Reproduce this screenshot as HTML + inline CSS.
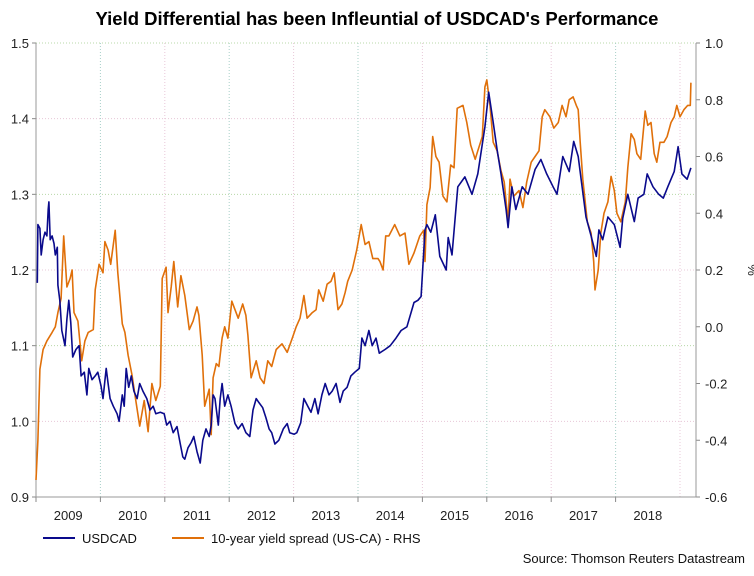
<!DOCTYPE html>
<html><head><meta charset="utf-8"><style>
body{margin:0;background:#fff;}
svg{display:block;font-family:"Liberation Sans",Arial,sans-serif;}
</style></head><body>
<svg id="chart" width="754" height="576" viewBox="0 0 754 576" xmlns="http://www.w3.org/2000/svg">
<text x="377" y="25" text-anchor="middle" font-size="18.5" font-weight="bold" fill="#000">Yield Differential has been Infleuntial of USDCAD's Performance</text>
<g id="grid"></g>
<g id="axes"></g>
<g id="series"></g>
<text transform="translate(748,270) rotate(90)" text-anchor="middle" font-size="13" fill="#222">%</text>
<g>
<line x1="43" y1="538" x2="75" y2="538" stroke="#0a0a8c" stroke-width="2"/>
<text x="82" y="543" font-size="13" fill="#111">USDCAD</text>
<line x1="172" y1="538" x2="204" y2="538" stroke="#e0700a" stroke-width="2"/>
<text x="211" y="543" font-size="13" fill="#111">10-year yield spread (US-CA) - RHS</text>
</g>
<text x="745" y="563" text-anchor="end" font-size="13" fill="#111">Source: Thomson Reuters Datastream</text>
</svg>
<script>
const baseYear = 2009;
const yearLabels = ["2009","2010","2011","2012","2013","2014","2015","2016","2017","2018"];
const leftTicks = [0.9,1.0,1.1,1.2,1.3,1.4,1.5];
const leftTickLabels = ["0.9","1.0","1.1","1.2","1.3","1.4","1.5"];
const rightTicks = [-0.6,-0.4,-0.2,0.0,0.2,0.4,0.6,0.8,1.0];
const rightTickLabels = ["-0.6","-0.4","-0.2","0.0","0.2","0.4","0.6","0.8","1.0"];
// years since 2009
const usdYears = [.02,.03,.06,.08,.11,.14,.17,.19,.20,.22,.25,.28,.30,.33,.34,.37,.40,.45,.48,.51,.54,.57,.62,.67,.70,.75,.79,.82,.87,.92,.96,1.01,1.04,1.09,1.12,1.15,1.20,1.26,1.29,1.34,1.37,1.40,1.44,1.48,1.52,1.57,1.61,1.66,1.72,1.77,1.82,1.86,1.93,1.99,2.03,2.08,2.13,2.19,2.24,2.28,2.31,2.36,2.41,2.45,2.50,2.55,2.59,2.64,2.69,2.72,2.75,2.78,2.83,2.86,2.89,2.93,2.98,3.03,3.09,3.14,3.20,3.26,3.32,3.37,3.42,3.46,3.52,3.57,3.62,3.66,3.71,3.77,3.84,3.90,3.94,4.01,4.05,4.11,4.16,4.22,4.27,4.33,4.38,4.44,4.49,4.55,4.60,4.66,4.72,4.77,4.83,4.89,4.95,5.02,5.06,5.11,5.17,5.22,5.28,5.33,5.42,5.50,5.59,5.67,5.76,5.87,5.93,5.98,6.04,6.07,6.13,6.20,6.27,6.37,6.40,6.46,6.55,6.66,6.77,6.86,6.97,7.03,7.10,7.16,7.22,7.30,7.33,7.39,7.45,7.55,7.64,7.75,7.84,7.93,8.03,8.09,8.18,8.28,8.35,8.42,8.48,8.54,8.62,8.70,8.74,8.80,8.88,8.98,9.07,9.11,9.19,9.29,9.35,9.44,9.49,9.58,9.67,9.74,9.81,9.91,9.97,10.03,10.11,10.17];
const usdValues = [1.183,1.26,1.255,1.22,1.24,1.25,1.245,1.28,1.29,1.24,1.245,1.235,1.22,1.23,1.18,1.16,1.12,1.10,1.135,1.16,1.13,1.085,1.095,1.10,1.06,1.065,1.035,1.07,1.055,1.06,1.065,1.047,1.03,1.07,1.05,1.03,1.02,1.01,1.0,1.035,1.02,1.07,1.045,1.06,1.04,1.03,1.05,1.04,1.03,1.015,1.02,1.01,1.012,1.01,0.995,1.0,0.985,0.993,0.97,0.953,0.95,0.965,0.972,0.98,0.96,0.945,0.975,0.99,0.98,0.995,1.035,1.03,0.995,1.03,1.05,1.02,1.035,1.02,0.997,0.99,0.997,0.985,0.98,1.015,1.03,1.025,1.018,1.005,0.99,0.985,0.97,0.975,0.99,0.997,0.985,0.983,0.985,0.998,1.03,1.02,1.012,1.03,1.01,1.035,1.05,1.035,1.04,1.05,1.025,1.04,1.045,1.06,1.065,1.07,1.11,1.10,1.12,1.10,1.11,1.09,1.095,1.10,1.11,1.12,1.125,1.157,1.16,1.165,1.253,1.26,1.25,1.273,1.218,1.20,1.243,1.22,1.31,1.323,1.30,1.327,1.389,1.435,1.395,1.359,1.327,1.28,1.256,1.31,1.28,1.31,1.30,1.333,1.346,1.327,1.31,1.30,1.35,1.33,1.37,1.35,1.31,1.27,1.245,1.218,1.253,1.24,1.27,1.26,1.23,1.268,1.30,1.264,1.295,1.30,1.327,1.31,1.30,1.295,1.31,1.33,1.363,1.327,1.32,1.335];
const spreadYears = [0,.03,.06,.11,.17,.25,.30,.34,.39,.43,.48,.53,.56,.59,.65,.71,.76,.81,.89,.92,.98,1.04,1.07,1.12,1.16,1.23,1.27,1.34,1.38,1.43,1.49,1.55,1.61,1.68,1.74,1.80,1.86,1.93,1.96,2.02,2.05,2.10,2.14,2.20,2.25,2.31,2.38,2.44,2.50,2.53,2.58,2.62,2.69,2.72,2.75,2.80,2.84,2.89,2.93,2.98,3.04,3.14,3.21,3.26,3.29,3.34,3.42,3.48,3.54,3.60,3.66,3.73,3.82,3.90,3.98,4.04,4.10,4.16,4.21,4.29,4.35,4.39,4.46,4.52,4.58,4.63,4.69,4.75,4.80,4.84,4.91,4.98,5.05,5.11,5.17,5.23,5.31,5.34,5.39,5.43,5.48,5.57,5.65,5.73,5.79,5.87,5.96,6.02,6.04,6.07,6.12,6.16,6.21,6.26,6.32,6.38,6.44,6.49,6.54,6.63,6.69,6.75,6.82,6.86,6.93,6.97,7.00,7.05,7.10,7.16,7.22,7.27,7.33,7.36,7.42,7.50,7.56,7.62,7.69,7.75,7.81,7.86,7.90,7.98,8.04,8.11,8.17,8.23,8.28,8.34,8.39,8.42,8.45,8.49,8.56,8.62,8.66,8.68,8.73,8.77,8.82,8.88,8.93,8.98,9.02,9.08,9.15,9.19,9.24,9.29,9.33,9.39,9.46,9.50,9.55,9.60,9.64,9.69,9.75,9.80,9.86,9.91,9.95,10.00,10.06,10.12,10.16,10.17];
const spreadValues = [-0.54,-0.40,-0.15,-0.08,-0.05,-0.02,0.0,0.05,0.10,0.32,0.14,0.17,0.20,0.05,0.02,-0.12,-0.05,-0.02,-0.01,0.13,0.22,0.19,0.30,0.27,0.22,0.34,0.19,0.01,-0.02,-0.10,-0.17,-0.26,-0.35,-0.26,-0.37,-0.20,-0.26,-0.21,0.17,0.21,0.05,0.14,0.23,0.07,0.18,0.11,-0.01,0.02,0.07,0.04,-0.10,-0.28,-0.22,-0.38,-0.18,-0.13,-0.14,-0.04,0.00,-0.04,0.09,0.03,0.08,0.04,-0.03,-0.18,-0.12,-0.18,-0.20,-0.12,-0.14,-0.08,-0.06,-0.09,-0.04,0.0,0.03,0.11,0.03,0.05,0.06,0.13,0.09,0.15,0.16,0.19,0.06,0.08,0.12,0.16,0.20,0.27,0.36,0.29,0.30,0.24,0.24,0.23,0.20,0.32,0.32,0.36,0.32,0.33,0.22,0.26,0.32,0.34,0.23,0.43,0.49,0.67,0.60,0.58,0.46,0.44,0.57,0.56,0.77,0.78,0.72,0.64,0.59,0.62,0.67,0.845,0.87,0.78,0.65,0.62,0.55,0.51,0.37,0.52,0.46,0.48,0.42,0.51,0.58,0.60,0.62,0.74,0.765,0.74,0.70,0.72,0.78,0.74,0.80,0.81,0.78,0.765,0.65,0.52,0.37,0.33,0.23,0.13,0.20,0.33,0.40,0.44,0.53,0.48,0.40,0.37,0.44,0.56,0.68,0.66,0.61,0.59,0.76,0.71,0.72,0.61,0.58,0.65,0.65,0.67,0.72,0.74,0.78,0.74,0.765,0.78,0.78,0.86];

const NS="http://www.w3.org/2000/svg";
const L=36,R=696,T=43,B=497,PX_PER_YEAR=64.4;
const xs=t=>L+t*PX_PER_YEAR;
const yl=v=>T+(1.5-v)/(1.5-0.9)*(B-T);
const yr=v=>T+(1.0-v)/(1.0+0.6)*(B-T);
function mk(tag,attrs,parent){const e=document.createElementNS(NS,tag);for(const k in attrs)e.setAttribute(k,attrs[k]);parent.appendChild(e);return e;}
const grid=document.getElementById('grid'),axes=document.getElementById('axes'),series=document.getElementById('series');
// horizontal grid
leftTicks.forEach((v,i)=>{
  const g=mk('line',{x1:L,x2:R,y1:yl(v),y2:yl(v),stroke:i%2?'#e8c8d8':'#b8d8a8','stroke-width':1,'stroke-dasharray':'1,2'},grid);
  
  
  const tk=mk('line',{x1:L-4,x2:L,y1:yl(v),y2:yl(v),stroke:'#888'},axes);
  
  
  const tx=mk('text',{x:29,y:yl(v)+5,'text-anchor':'end','font-size':13,fill:'#222'},axes);
  
  
  tx.textContent=leftTickLabels[i];
});
rightTicks.forEach((v,i)=>{
  const tk=mk('line',{x1:R,x2:R+4,y1:yr(v),y2:yr(v),stroke:'#888'},axes);
  
  
  const tx=mk('text',{x:705,y:yr(v)+5,'font-size':13,fill:'#222'},axes);
  
  
  tx.textContent=rightTickLabels[i];
});
// vertical grid + year labels
yearLabels.forEach((lab,i)=>{
  const xb=xs(i+1);
  if(xb<R){
    const g=mk('line',{x1:xb,x2:xb,y1:T,y2:B,stroke:i%2?'#e8c8d8':'#a8d0c8','stroke-dasharray':'1,2'},grid);
    
    
  }
  const tk=mk('line',{x1:xs(i),x2:xs(i),y1:B,y2:B+5,stroke:'#888'},axes);
  
  
  const tx=mk('text',{x:xs(i+0.5),y:520,'text-anchor':'middle','font-size':13,fill:'#222'},axes);
  
  
  tx.textContent=lab;
});
const la=mk('line',{x1:L,x2:L,y1:T,y2:B,stroke:'#999'},axes);


const ra=mk('line',{x1:R,x2:R,y1:T,y2:B,stroke:'#999'},axes);


const ba=mk('line',{x1:L,x2:R,y1:B,y2:B,stroke:'#999'},axes);


function pts(ts,vs,yf){return ts.map((t,i)=>xs(t).toFixed(1)+','+yf(vs[i]).toFixed(1)).join(' ');}
const sp=mk('polyline',{points:pts(spreadYears,spreadValues,yr),fill:'none',stroke:'#e0700a','stroke-width':1.6,'stroke-linejoin':'round'},series);


const us=mk('polyline',{points:pts(usdYears,usdValues,yl),fill:'none',stroke:'#0a0a8c','stroke-width':1.6,'stroke-linejoin':'round'},series);


</script>
</body></html>
